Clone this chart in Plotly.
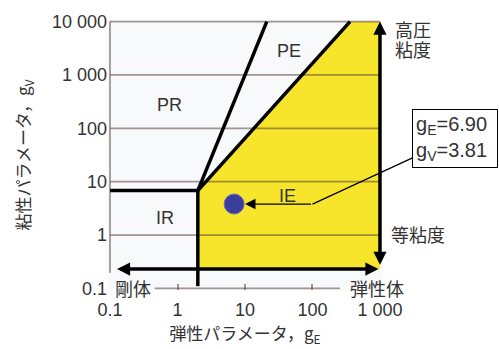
import numpy as np
import plotly.graph_objects as go

# Axis ticks
x_ticks = [0.1, 1, 10, 100, 1000]
x_tick_text = ["0.1", "1", "10", "100", "1 000"]
x_inner_ticks = [1, 10, 100]
y_ticks = [0.1, 1, 10, 100, 1000, 10000]
y_tick_text = ["0.1", "1", "10", "100", "1 000", "10 000"]
grid_levels = [1, 10, 100, 1000, 10000]

# Region boundaries (gE, gV)
corner = [2.0, 6.8]
pr_pe_top = [21, 10000]
pe_ie_top = [360, 10000]
ir_floor = 0.11
base_level = 0.23          # rigid -> elastic arrow
viscosity_arrow_low = 0.26
x_axis_span = [0.46, 256]
y_axis_low = 0.197

# Regions
region_names = ["PE", "PR", "IR", "IE"]
region_x = [45, 0.77, 0.66, 43]
region_y = [2790, 270, 2.13, 5.3]

# Operating point
g_e = 6.90
g_v = 3.81
leader_x = 100

XR = [-1.03, 3.03]
YR = [-1.03, 4.03]
lg = np.log10

GRAY = "rgba(90,70,60,0.55)"
TXT = "#333333"
NUM_FONT = dict(family="Liberation Sans, Arial, sans-serif", size=18, color=TXT)
JP_FONT = dict(family="Noto Sans CJK JP, sans-serif", size=18, color=TXT)

fig = go.Figure()

# Yellow IE region
fig.add_trace(go.Scatter(
    x=[corner[0], 1000, 1000, pe_ie_top[0], corner[0]],
    y=[base_level, base_level, 10000, pe_ie_top[1], corner[1]],
    mode="lines", fill="toself", fillcolor="#f6e52b",
    line=dict(width=0), hoverinfo="skip", showlegend=False))

# Horizontal grid
gx, gy = [], []
for v in grid_levels:
    gx += [0.1, 1000, None]
    gy += [v, v, None]
fig.add_trace(go.Scatter(x=gx, y=gy, mode="lines",
                         line=dict(color=GRAY, width=1.8),
                         hoverinfo="skip", showlegend=False))

# Left axis line
fig.add_trace(go.Scatter(x=[0.1, 0.1], y=[y_axis_low, 10000], mode="lines",
                         line=dict(color=GRAY, width=1.8),
                         hoverinfo="skip", showlegend=False))

# Bottom axis line (carries the inner tick axis)
fig.add_trace(go.Scatter(x=x_axis_span, y=[0.1, 0.1], mode="lines",
                         xaxis="x2",
                         line=dict(color=GRAY, width=1.8),
                         hoverinfo="skip", showlegend=False))

# Region boundaries
BL = dict(color="black", width=3.5)
for xs, ys in [
    ([0.1, corner[0]], [corner[1], corner[1]]),
    ([corner[0], corner[0]], [corner[1], ir_floor]),
    ([corner[0], pr_pe_top[0]], [corner[1], pr_pe_top[1]]),
    ([corner[0], pe_ie_top[0]], [corner[1], pe_ie_top[1]]),
]:
    fig.add_trace(go.Scatter(x=xs, y=ys, mode="lines", line=BL,
                             hoverinfo="skip", showlegend=False))

# Operating point
fig.add_trace(go.Scatter(x=[g_e], y=[g_v], mode="markers",
                         marker=dict(size=20, color="#3a3d99",
                                     line=dict(color="#6a6cc0", width=1)),
                         hoverinfo="skip", showlegend=False, cliponaxis=False))

ann = []
# Region labels
for n, xv, yv in zip(region_names, region_x, region_y):
    ann.append(dict(x=lg(xv), y=lg(yv), xref="x", yref="y", text=n,
                    showarrow=False, font=NUM_FONT))

# Rigid <-> elastic arrow
ann.append(dict(x=lg(0.127), y=lg(base_level), ax=lg(1000), ay=lg(base_level),
                xref="x", yref="y", axref="x", ayref="y", text="",
                showarrow=True, arrowhead=2, startarrowhead=2,
                arrowside="end+start", arrowwidth=3.5, arrowsize=0.75,
                startarrowsize=0.75, arrowcolor="black", standoff=0,
                startstandoff=0))
# Iso-viscosity <-> high viscosity arrow
ann.append(dict(x=lg(1000), y=lg(10000), ax=lg(1000), ay=lg(viscosity_arrow_low),
                xref="x", yref="y", axref="x", ayref="y", text="",
                showarrow=True, arrowhead=2, startarrowhead=2,
                arrowside="end+start", arrowwidth=3.5, arrowsize=0.75,
                startarrowsize=0.75, arrowcolor="black", standoff=0,
                startstandoff=0))

# Leader to the point
ann.append(dict(x=lg(g_e), y=lg(g_v), ax=lg(leader_x), ay=lg(g_v),
                xref="x", yref="y", axref="x", ayref="y", text="",
                showarrow=True, arrowhead=2, arrowwidth=1.3, arrowsize=1.6,
                arrowcolor="black", standoff=11))
# Value box
ann.append(dict(x=lg(leader_x), y=lg(g_v), xref="x", yref="y",
                ax=143, ay=-66,
                text="g<sub>E</sub>=%.2f<br>g<sub>V</sub>=%.2f" % (g_e, g_v),
                showarrow=True, arrowhead=0, arrowwidth=1.3, arrowcolor="black",
                font=dict(family="Liberation Sans, Arial, sans-serif", size=20, color=TXT),
                align="left", bgcolor="white", bordercolor="black", borderwidth=1,
                borderpad=3, width=78))

# Side labels
side_labels = [("高圧", 1.040, 0.966), ("粘度", 1.040, 0.893),
               ("等粘度", 1.026, 0.208), ("剛体", 0.018, 0.007),
               ("弾性体", 0.876, 0.007)]
for t, px, py in side_labels:
    ann.append(dict(x=px, y=py, xref="paper", yref="paper", text=t,
                    showarrow=False, xanchor="left", yanchor="middle",
                    font=JP_FONT))

fig.update_layout(
    width=499, height=349,
    margin=dict(l=108, r=117, t=18, b=57),
    paper_bgcolor="white", plot_bgcolor="#f8f9fb",
    showlegend=False,
    annotations=ann,
    xaxis=dict(type="log", range=XR, tickvals=x_ticks, ticktext=x_tick_text,
               showgrid=False, zeroline=False, showline=False, ticks="",
               ticklabelstandoff=7, tickfont=NUM_FONT,
               title=dict(text="弾性パラメータ，g<sub>E</sub>",
                          font=dict(family="Noto Sans CJK JP, sans-serif", size=17, color=TXT),
                          standoff=5)),
    xaxis2=dict(type="log", range=XR, overlaying="x", anchor="y", side="bottom",
                tickvals=x_inner_ticks, ticks="inside", ticklen=6, tickwidth=1.5,
                tickcolor=GRAY, showticklabels=False, showgrid=False,
                zeroline=False, showline=False),
    yaxis=dict(type="log", range=YR, tickvals=y_ticks, ticktext=y_tick_text,
               showgrid=False, zeroline=False, showline=False, ticks="",
               tickfont=NUM_FONT,
               title=dict(text="粘性パラメータ，g<sub>V</sub>",
                          font=dict(family="Noto Sans CJK JP, sans-serif", size=17, color=TXT),
                          standoff=16)),
)

fig.write_html("out.html")
